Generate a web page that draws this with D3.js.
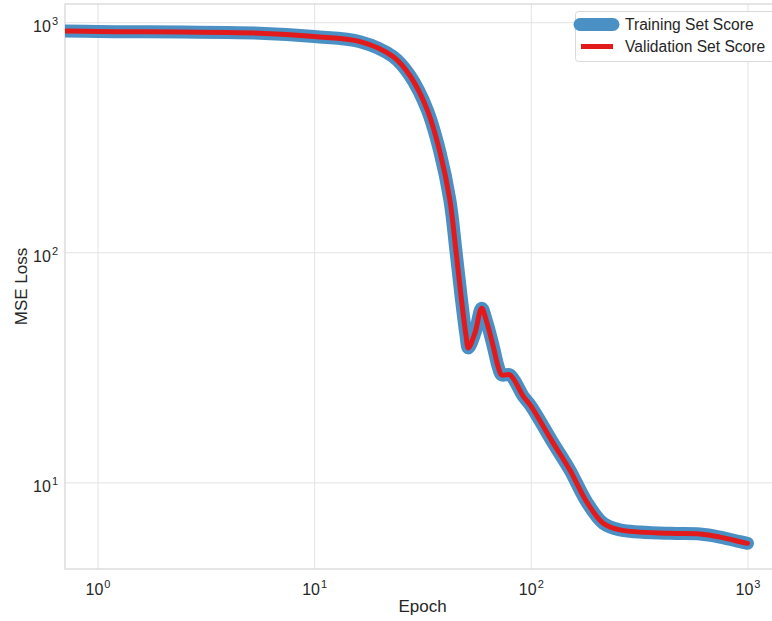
<!DOCTYPE html>
<html>
<head>
<meta charset="utf-8">
<script src="https://cdn.jsdelivr.net/npm/d3@7"></script>
<style>
  body { margin: 0; background: #fff; }
  svg { display: block; font-family: "Liberation Sans", Arial, sans-serif; }
</style>
</head>
<body>
<svg width="772" height="621"></svg>
<script>
// values
var epochs = [0.6, 1, 5.6, 10, 16.3, 23.1, 27.7, 33.2, 38.1, 42.3, 45.1, 47.6, 50.2, 51.5, 55.2, 59.3, 62.5, 67.1, 70.7, 73.3, 80.1, 92.2, 100, 126.9, 151.5, 180.9, 215.8, 257.8, 438.5, 604, 746.6, 923.6, 1000];
var trainScore = [918, 912, 896, 866, 823, 709, 585, 418, 272, 169, 102, 65, 43.7, 38.4, 44.5, 57.1, 50, 38.9, 31.8, 29.3, 29.3, 23.7, 21.5, 14.8, 11.3, 8.24, 6.64, 6.21, 6.0, 5.96, 5.78, 5.52, 5.43];
var validScore = [918, 912, 896, 866, 823, 709, 585, 418, 272, 169, 102, 65, 43.7, 38.4, 44.5, 57.1, 50, 38.9, 31.8, 29.3, 29.3, 23.7, 21.5, 14.8, 11.3, 8.24, 6.64, 6.21, 6.0, 5.96, 5.78, 5.52, 5.43];
var xTicks = [1, 10, 100, 1000];
var yTicks = [10, 100, 1000];
var seriesNames = ["Training Set Score", "Validation Set Score"];

var svg = d3.select("svg"),
    margin = {top: 4, right: -8, bottom: 52, left: 65},
    width = +svg.attr("width") - margin.left - margin.right,
    height = +svg.attr("height") - margin.top - margin.bottom,
    g = svg.append("g").attr("transform", "translate(" + margin.left + "," + margin.top + ")");

var x = d3.scaleLog()
    .domain([0.708, 1413])
    .range([0, width]);

var y = d3.scaleLog()
    .domain([4.2, 1200])
    .range([height, 0]);

var ink = "#262626";

// grid
g.append("g")
    .attr("class", "grid")
    .attr("transform", "translate(0," + height + ")")
    .call(d3.axisBottom(x).tickValues(xTicks).tickSize(-height).tickFormat(""))
    .call(function (s) { s.select(".domain").remove(); });
g.append("g")
    .attr("class", "grid")
    .call(d3.axisLeft(y).tickValues(yTicks).tickSize(-width).tickFormat(""))
    .call(function (s) { s.select(".domain").remove(); });
g.selectAll(".grid line").attr("stroke", "#e3e3e3").attr("stroke-width", 1);

// frame
g.append("rect")
    .attr("x", 0).attr("y", 0)
    .attr("width", width).attr("height", height)
    .attr("fill", "none")
    .attr("stroke", "#d4d4d4")
    .attr("stroke-width", 1.2);

var supLabel = function (sel, d) {
    var e = Math.round(Math.log10(d));
    sel.text(null);
    sel.append("tspan").text("10");
    sel.append("tspan").attr("dy", "-0.6em").attr("dx", "1").attr("font-size", "11px").text(e);
};

var xAxis = g.append("g")
    .attr("transform", "translate(0," + height + ")")
    .call(d3.axisBottom(x).tickValues(xTicks).tickSize(0).tickPadding(10));
xAxis.select(".domain").remove();
xAxis.selectAll("text")
    .attr("font-size", "16px")
    .attr("fill", ink)
    .attr("dy", "1.0em")
    .each(function (d) { supLabel(d3.select(this), d); });

var yAxis = g.append("g")
    .call(d3.axisLeft(y).tickValues(yTicks).tickSize(0).tickPadding(7));
yAxis.select(".domain").remove();
yAxis.selectAll("text")
    .attr("font-size", "16px")
    .attr("fill", ink)
    .attr("dy", "0.55em")
    .each(function (d) { supLabel(d3.select(this), d); });

svg.append("text")
    .attr("x", margin.left + (780 - margin.left) / 2)
    .attr("y", 612)
    .attr("text-anchor", "middle")
    .attr("font-size", "17px")
    .attr("fill", ink)
    .text("Epoch");

svg.append("text")
    .attr("transform", "translate(27," + (margin.top + height / 2) + ") rotate(-90)")
    .attr("text-anchor", "middle")
    .attr("font-size", "17px")
    .attr("fill", ink)
    .text("MSE Loss");

// lines
svg.append("defs").append("clipPath").attr("id", "plot-clip")
    .append("rect").attr("width", width).attr("height", height);

var line = function (vals) {
    return d3.line()
        .curve(d3.curveCatmullRom.alpha(0.5))
        .x(function (d, i) { return x(epochs[i]); })
        .y(function (d) { return y(d); })(vals);
};

var lines = g.append("g").attr("clip-path", "url(#plot-clip)");
lines.append("path")
    .attr("d", line(trainScore))
    .attr("fill", "none")
    .attr("stroke", "#4a90c4")
    .attr("stroke-width", 13)
    .attr("stroke-linecap", "round")
    .attr("stroke-linejoin", "round");
lines.append("path")
    .attr("d", line(validScore))
    .attr("fill", "none")
    .attr("stroke", "#e31a1c")
    .attr("stroke-width", 5)
    .attr("stroke-linecap", "round")
    .attr("stroke-linejoin", "round");

// legend
var leg = svg.append("g");
leg.append("rect")
    .attr("x", 575.5).attr("y", 11.5)
    .attr("width", 200).attr("height", 50)
    .attr("rx", 3)
    .attr("fill", "#fff")
    .attr("stroke", "#d9d9d9");
leg.append("line")
    .attr("x1", 580).attr("x2", 613).attr("y1", 24.5).attr("y2", 24.5)
    .attr("stroke", "#4a90c4").attr("stroke-width", 13).attr("stroke-linecap", "round");
leg.append("line")
    .attr("x1", 581).attr("x2", 613).attr("y1", 46.5).attr("y2", 46.5)
    .attr("stroke", "#e31a1c").attr("stroke-width", 5);
leg.selectAll("text.lab")
    .data(seriesNames)
    .enter().append("text")
    .attr("class", "lab")
    .attr("x", 625)
    .attr("y", function (d, i) { return 30 + i * 22; })
    .attr("font-size", "15.6px")
    .attr("fill", ink)
    .text(function (d) { return d; });
</script>
</body>
</html>
